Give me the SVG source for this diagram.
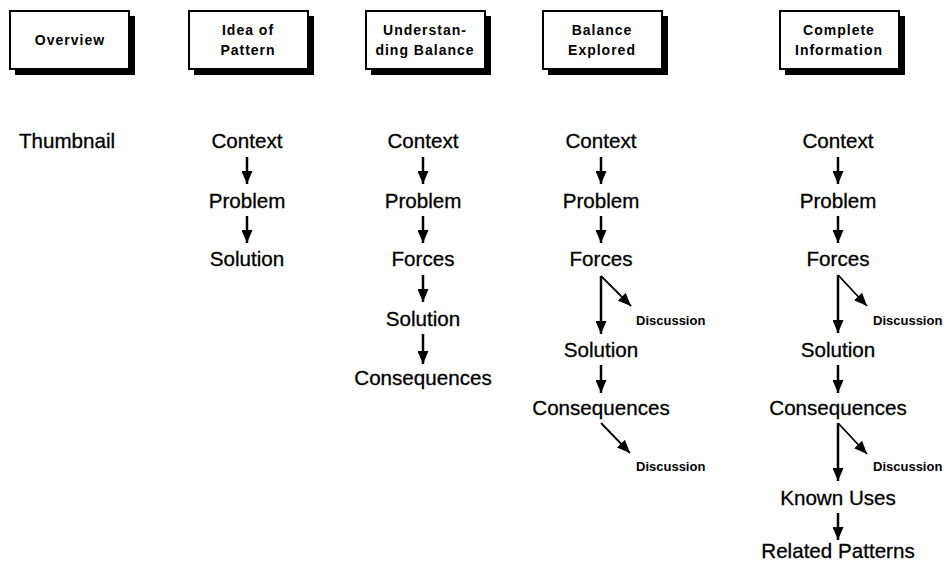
<svg xmlns="http://www.w3.org/2000/svg" width="947" height="563" viewBox="0 0 947 563">
  <style>
    .box { fill: #fff; stroke: #000; stroke-width: 2; }
    .shadow { fill: #000; }
    .title { font-family: "Liberation Sans", Arial, sans-serif; font-size: 14px; font-weight: bold; letter-spacing: 1px; text-anchor: middle; fill: #000; }
    .label { font-family: "Liberation Sans", Arial, sans-serif; font-size: 20.6px; text-anchor: middle; fill: #000; stroke: #000; stroke-width: 0.3; }
    .note { font-family: "Liberation Sans", Arial, sans-serif; font-size: 13px; font-weight: bold; fill: #000; }
    .flow { stroke: #000; stroke-width: 2.5; fill: none; marker-end: url(#head); }
    .side { stroke: #000; stroke-width: 1.8; fill: none; marker-end: url(#head); }
  </style>
  <defs>
    <marker id="head" markerUnits="userSpaceOnUse" markerWidth="13" markerHeight="11" refX="13" refY="5.5" orient="auto">
      <path d="M0,0 L13,5.5 L0,11 Z" fill="#000"/>
    </marker>
  </defs>
  <rect width="947" height="563" fill="#fff"/>

  <!-- header boxes -->
  <g id="overview">
    <rect class="shadow" x="15" y="16" width="120" height="59"/>
    <rect class="box" x="10" y="11" width="119" height="58"/>
    <text class="title" x="70" y="45">Overview</text>
  </g>
  <g id="idea-of-pattern">
    <rect class="shadow" x="194" y="16" width="120" height="59"/>
    <rect class="box" x="189" y="11" width="119" height="58"/>
    <text class="title" x="248" y="35">Idea of</text>
    <text class="title" x="248" y="55">Pattern</text>
  </g>
  <g id="understanding-balance">
    <rect class="shadow" x="371" y="16" width="120" height="59"/>
    <rect class="box" x="366" y="11" width="119" height="58"/>
    <text class="title" x="425" y="35">Understan-</text>
    <text class="title" x="425" y="55">ding Balance</text>
  </g>
  <g id="balance-explored">
    <rect class="shadow" x="548" y="16" width="120" height="59"/>
    <rect class="box" x="543" y="11" width="119" height="58"/>
    <text class="title" x="602" y="35">Balance</text>
    <text class="title" x="602" y="55">Explored</text>
  </g>
  <g id="complete-information">
    <rect class="shadow" x="785" y="16" width="120" height="59"/>
    <rect class="box" x="780" y="11" width="119" height="58"/>
    <text class="title" x="839" y="35">Complete</text>
    <text class="title" x="839" y="55">Information</text>
  </g>

  <!-- column 1 -->
  <g id="c1-thumbnail"><text class="label" x="67" y="148">Thumbnail</text></g>

  <!-- column 2 -->
  <g id="c2-context"><text class="label" x="247" y="148">Context</text></g>
  <g id="c2-problem"><text class="label" x="247" y="208">Problem</text></g>
  <g id="c2-solution"><text class="label" x="247" y="266">Solution</text></g>

  <!-- column 3 -->
  <g id="c3-context"><text class="label" x="423" y="148">Context</text></g>
  <g id="c3-problem"><text class="label" x="423" y="208">Problem</text></g>
  <g id="c3-forces"><text class="label" x="423" y="266">Forces</text></g>
  <g id="c3-solution"><text class="label" x="423" y="326">Solution</text></g>
  <g id="c3-consequences"><text class="label" x="423" y="385">Consequences</text></g>

  <!-- column 4 -->
  <g id="c4-context"><text class="label" x="601" y="148">Context</text></g>
  <g id="c4-problem"><text class="label" x="601" y="208">Problem</text></g>
  <g id="c4-forces"><text class="label" x="601" y="266">Forces</text></g>
  <g id="c4-discussion-1"><text class="note" x="636" y="325">Discussion</text></g>
  <g id="c4-solution"><text class="label" x="601" y="357">Solution</text></g>
  <g id="c4-consequences"><text class="label" x="601" y="415">Consequences</text></g>
  <g id="c4-discussion-2"><text class="note" x="636" y="471">Discussion</text></g>

  <!-- column 5 -->
  <g id="c5-context"><text class="label" x="838" y="148">Context</text></g>
  <g id="c5-problem"><text class="label" x="838" y="208">Problem</text></g>
  <g id="c5-forces"><text class="label" x="838" y="266">Forces</text></g>
  <g id="c5-discussion-1"><text class="note" x="873" y="325">Discussion</text></g>
  <g id="c5-solution"><text class="label" x="838" y="357">Solution</text></g>
  <g id="c5-consequences"><text class="label" x="838" y="415">Consequences</text></g>
  <g id="c5-discussion-2"><text class="note" x="873" y="471">Discussion</text></g>
  <g id="c5-known-uses"><text class="label" x="838" y="505">Known Uses</text></g>
  <g id="c5-related-patterns"><text class="label" x="838" y="558">Related Patterns</text></g>

  <!-- connectors -->
  <g id="connectors">
    <line class="flow" x1="247" y1="157" x2="247" y2="184"/>
    <line class="flow" x1="247" y1="216" x2="247" y2="243"/>

    <line class="flow" x1="423" y1="157" x2="423" y2="184"/>
    <line class="flow" x1="423" y1="216" x2="423" y2="243"/>
    <line class="flow" x1="423" y1="275" x2="423" y2="302"/>
    <line class="flow" x1="423" y1="334" x2="423" y2="364"/>

    <line class="flow" x1="601" y1="157" x2="601" y2="184"/>
    <line class="flow" x1="601" y1="216" x2="601" y2="243"/>
    <line class="flow" x1="601" y1="276" x2="601" y2="334"/>
    <line class="side" x1="601" y1="276" x2="631" y2="306"/>
    <line class="flow" x1="601" y1="365" x2="601" y2="393"/>
    <line class="side" x1="601" y1="423" x2="630" y2="453"/>

    <line class="flow" x1="838" y1="157" x2="838" y2="184"/>
    <line class="flow" x1="838" y1="216" x2="838" y2="243"/>
    <line class="flow" x1="838" y1="275" x2="838" y2="333"/>
    <line class="side" x1="838" y1="275" x2="867" y2="306"/>
    <line class="flow" x1="838" y1="365" x2="838" y2="393"/>
    <line class="flow" x1="838" y1="423" x2="838" y2="481"/>
    <line class="side" x1="838" y1="423" x2="867" y2="454"/>
    <line class="flow" x1="838" y1="513" x2="838" y2="540"/>
  </g>
</svg>
